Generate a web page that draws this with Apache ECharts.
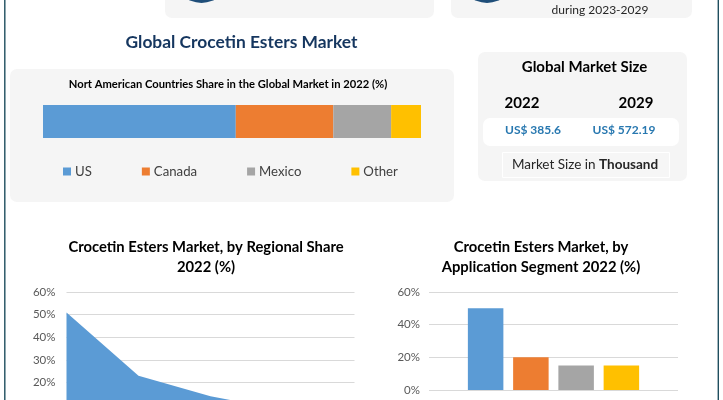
<!DOCTYPE html>
<html>
<head>
<meta charset="utf-8">
<title>Global Crocetin Esters Market</title>
<script src="https://cdn.jsdelivr.net/npm/echarts@6/dist/echarts.min.js"></script>
<style>
html,body{margin:0;padding:0;background:#fff;}
#chart{width:723px;height:400px;}
</style>
</head>
<body>
<div id="chart"></div>
<script>
let countries = ['US', 'Canada', 'Mexico', 'Other'];
let countryShare = [51, 25.8, 15.3, 7.9];
let regions = ['North America', 'Asia Pacific', 'Europe', 'Middle East and Africa', 'South America'];
let regionShare = [51, 23, 14, 8, 3];
let segments = ['Segment A', 'Segment B', 'Segment C', 'Segment D'];
let segmentShare = [50, 20, 15, 15];
let colors = ['#5b9bd5', '#ed7d31', '#a5a5a5', '#ffc000'];
let font = 'Lato';

function panel(x, y, w, h, fill) {
    return {type: 'rect', z: 0, shape: {x: x, y: y, width: w, height: h, r: 7}, style: {fill: fill || '#f5f5f5'}};
}
function text(str, x, y, size, weight, color) {
    return {type: 'text', z: 3, x: x, y: y, style: {text: str, fontFamily: font, fontSize: size, fontWeight: weight,
        fill: color, align: 'center', verticalAlign: 'middle'}};
}
function head(str, x, y, size, color) {
    return {text: str, left: x, top: y, padding: 0, textAlign: 'center', textVerticalAlign: 'middle',
        textStyle: {fontFamily: font, fontSize: size, fontWeight: 'bold', color: color || '#000', lineHeight: 20}};
}

let option = {
    animation: false,
    backgroundColor: '#fff',
    title: [
        head('Global Crocetin Esters Market', 241.5, 42, 17.4, '#15365f'),
        head('Nort American Countries Share in the Global Market in 2022 (%)', 228, 84, 11.2),
        head('Crocetin Esters Market, by Regional Share\n2022 (%)', 206, 257, 14.8),
        head('Crocetin Esters Market, by\nApplication Segment 2022 (%)', 541, 257, 14.8)
    ],
    legend: {
        data: countries, left: 58, top: 160, itemWidth: 8, itemHeight: 8, itemGap: 50, icon: 'rect',
        textStyle: {fontFamily: font, fontSize: 13.2, color: '#404040', padding: [0, 0, 0, -1]}
    },
    grid: [
        {left: 43, width: 378, top: 105, height: 33, outerBoundsMode: 'none'},
        {left: 66.5, width: 288, top: 292, height: 136, outerBoundsMode: 'none'},
        {left: 429, width: 249, top: 292, height: 98, outerBoundsMode: 'none'},
        {left: 463, width: 181, top: 292, height: 98, outerBoundsMode: 'none'}
    ],
    xAxis: [
        {gridIndex: 0, type: 'value', min: 0, max: 100, show: false},
        {gridIndex: 1, type: 'category', data: regions, boundaryGap: false, axisLine: {show: false},
            axisTick: {show: false}, axisLabel: {show: false}},
        {gridIndex: 2, type: 'value', min: 0, max: 1, show: false},
        {gridIndex: 3, type: 'category', data: segments, axisLine: {show: false},
            axisTick: {show: false}, axisLabel: {show: false}}
    ],
    yAxis: [
        {gridIndex: 0, type: 'category', data: ['2022'], show: false},
        {gridIndex: 1, type: 'value', min: 0, max: 60, interval: 10, axisLine: {show: false}, axisTick: {show: false},
            axisLabel: {formatter: '{value}%', margin: 11, fontFamily: font, fontSize: 11.5, color: '#595959'},
            splitLine: {lineStyle: {color: '#d9d9d9', width: 1}}},
        {gridIndex: 2, type: 'value', min: 0, max: 60, interval: 20, axisLine: {show: false}, axisTick: {show: false},
            axisLabel: {formatter: '{value}%', margin: 9, fontFamily: font, fontSize: 11.5, color: '#595959'},
            splitLine: {lineStyle: {color: '#d9d9d9', width: 1}}},
        {gridIndex: 3, type: 'value', min: 0, max: 60, show: false}
    ],
    series: [
        ...countries.map(function(name, i) {
            return {name: name, type: 'bar', stack: 'share', xAxisIndex: 0, yAxisIndex: 0, barWidth: 33,
                data: [countryShare[i]], itemStyle: {color: colors[i]}};
        }),
        {type: 'line', xAxisIndex: 1, yAxisIndex: 1, data: regionShare, symbol: 'none',
            lineStyle: {width: 0}, areaStyle: {color: colors[0], opacity: 1}},
        {type: 'bar', xAxisIndex: 3, yAxisIndex: 3, barWidth: 35.5,
            data: segmentShare.map(function(v, i) { return {value: v, itemStyle: {color: colors[i]}}; })}
    ],
    graphic: [
        panel(165, -10, 269, 28),
        panel(451, -10, 241, 28),
        panel(10, 69, 444, 133),
        panel(478, 52, 209, 129),
        {type: 'circle', z: 1, shape: {cx: 201.5, cy: -25, r: 28}, style: {fill: '#1f4e79'}},
        {type: 'circle', z: 1, shape: {cx: 487, cy: -25, r: 28}, style: {fill: '#1f4e79'}},
        panel(483, 118, 196, 28, '#fff'),
        {type: 'rect', z: 1, shape: {x: 502.5, y: 152.5, width: 167, height: 25}, style: {fill: '#f6f6f6', stroke: '#fff', lineWidth: 1}},
        {type: 'line', z: 4, shape: {x1: 4.8, y1: 0, x2: 4.8, y2: 400}, style: {stroke: '#1f4e5f', lineWidth: 1.4}},
        {type: 'line', z: 4, shape: {x1: 718.3, y1: 0, x2: 718.3, y2: 400}, style: {stroke: '#1f4e5f', lineWidth: 1.4}},
        text('during 2023-2029', 600, 10.5, 12, 'normal', '#262626'),
        text('Global Market Size', 584.5, 67, 15, 'bold', '#000'),
        text('2022', 522, 103, 15, 'bold', '#000'),
        text('2029', 636, 103, 15, 'bold', '#000'),
        text('US$ 385.6', 533, 130, 12, 'bold', '#2878b0'),
        text('US$ 572.19', 624, 130, 12, 'bold', '#2878b0'),
        {type: 'text', z: 3, x: 585, y: 165, style: {
            rich: {a: {fontFamily: font, fontSize: 13.5, fill: '#262626', color: '#262626'},
                   b: {fontFamily: font, fontSize: 13.5, fontWeight: 'bold', fill: '#262626', color: '#262626'}},
            text: '{a|Market Size in }{b|Thousand}', align: 'center', verticalAlign: 'middle'}}
    ]
};
let myChart = echarts.init(document.getElementById('chart'), null, {renderer: 'canvas'});
myChart.setOption(option);
</script>
</body>
</html>
